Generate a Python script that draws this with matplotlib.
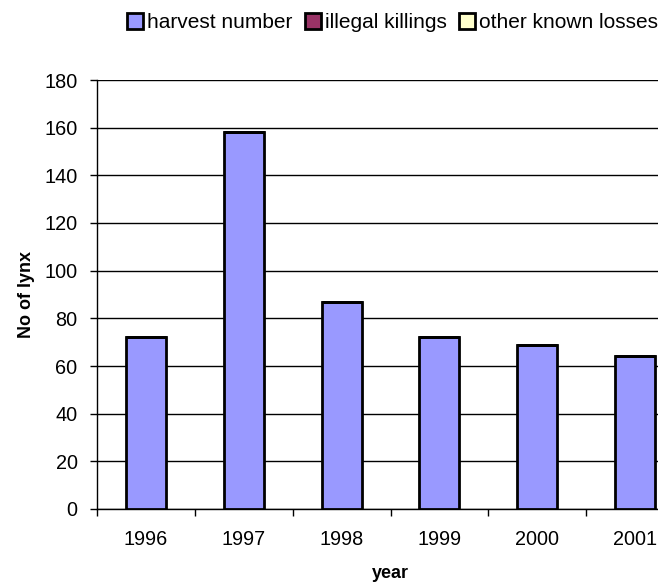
import matplotlib.pyplot as plt
import numpy as np

plt.rcParams['font.family'] = ['Liberation Sans', 'DejaVu Sans']

years = ['1996', '1997', '1998', '1999', '2000', '2001']
harvest_number = [72, 158, 87, 72, 69, 64]
illegal_killings = [0, 0, 0, 0, 0, 0]
other_known_losses = [0, 0, 0, 0, 0, 0]

fig = plt.figure(figsize=(6.58, 5.85), dpi=100)
ax = fig.add_axes([97 / 658, 76 / 585, 587 / 658, 429 / 585])

x = np.arange(len(years))
width = 0.41
edge = dict(edgecolor='black', linewidth=2)

ax.bar(x, harvest_number, width, color='#9999ff', label='harvest number', zorder=3, **edge)
ax.bar(x, illegal_killings, width, bottom=harvest_number, color='#993366',
       label='illegal killings', zorder=3, **edge)
bottom2 = np.array(harvest_number) + np.array(illegal_killings)
ax.bar(x, other_known_losses, width, bottom=bottom2, color='#ffffcc',
       label='other known losses', zorder=3, **edge)

ax.set_xlim(-0.5, len(years) - 0.5)
ax.set_ylim(0, 180)
ax.set_yticks(range(0, 181, 20))
ax.yaxis.grid(True, color='black', linewidth=1, zorder=0)

ax.set_xticks(x)
ax.set_xticklabels(years, fontsize=14.3)
ax.set_xticks(np.arange(-0.5, len(years)), minor=True)
ax.tick_params(axis='x', which='major', length=0, pad=15)
ax.tick_params(axis='x', which='minor', length=5, width=1, direction='out')
ax.tick_params(axis='y', length=5, width=1, direction='out', labelsize=14.3, pad=9)

for side in ['top', 'right']:
    ax.spines[side].set_visible(False)
for side in ['left', 'bottom']:
    ax.spines[side].set_linewidth(1)
    ax.spines[side].set_color('black')

ax.set_xlabel('year', fontsize=13, fontweight='bold', labelpad=12)
ax.set_ylabel('No of lynx', fontsize=13, fontweight='bold', labelpad=7)

fig.legend(loc='upper left', bbox_to_anchor=(119 / 658, 1 - 5 / 585), ncol=3,
           frameon=False, fontsize=15, handlelength=0.75, handleheight=0.75,
           handletextpad=0.2, columnspacing=0.6, borderaxespad=0)

fig.savefig('out.png', dpi=100)
